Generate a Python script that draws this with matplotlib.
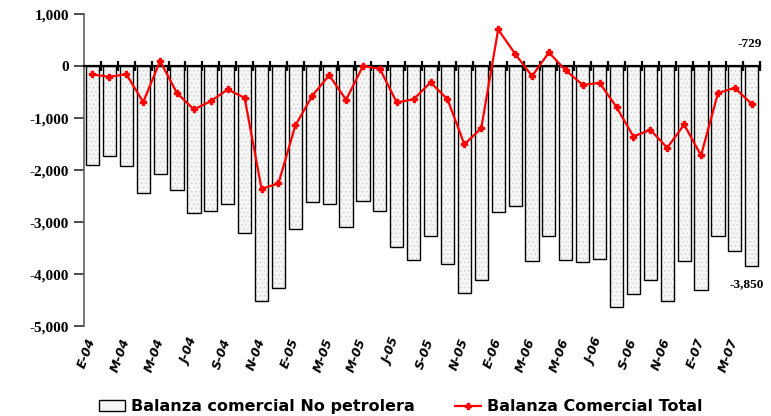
import matplotlib.pyplot as plt
import matplotlib.patches as mpatches
import matplotlib.lines as mlines

# Monthly data, Jan-2004 .. Apr-2007 (millions of dollars)
months = ["E-04", "F-04", "M-04", "A-04", "M-04", "J-04", "J-04", "A-04", "S-04", "O-04", "N-04", "D-04",
          "E-05", "F-05", "M-05", "A-05", "M-05", "J-05", "J-05", "A-05", "S-05", "O-05", "N-05", "D-05",
          "E-06", "F-06", "M-06", "A-06", "M-06", "J-06", "J-06", "A-06", "S-06", "O-06", "N-06", "D-06",
          "E-07", "F-07", "M-07", "A-07"]

no_petrolera = [-1910, -1731, -1929, -2442, -2077, -2378, -2827, -2782, -2647, -3212, -4519, -4269,
                -3141, -2615, -2660, -3096, -2596, -2782, -3474, -3724, -3269, -3801, -4372, -4122,
                -2814, -2699, -3750, -3269, -3731, -3763, -3718, -4635, -4385, -4109, -4519, -3756,
                -4314, -3276, -3564, -3850]

total = [-160, -205, -154, -692, 96, -519, -833, -673, -449, -609, -2359, -2256,
         -1141, -571, -173, -647, 0, -51, -699, -635, -314, -635, -1506, -1192,
         705, 237, -192, 263, -83, -359, -321, -788, -1353, -1224, -1571, -1122,
         -1718, -519, -417, -729]

x = list(range(len(months)))

plt.rcParams['hatch.linewidth'] = 0.4

fig = plt.figure(figsize=(7.71, 4.16), dpi=100)
ax = fig.add_axes([0.109, 0.216, 0.877, 0.750])

# light stipple fill, then black outlines on top
ax.bar(x, no_petrolera, width=0.78, facecolor='#f6f6f6', edgecolor='#c8c8c8',
       linewidth=0, hatch='....', zorder=2)
ax.bar(x, no_petrolera, width=0.78, facecolor='none', edgecolor='black',
       linewidth=1.0, zorder=2.5)
ax.plot(x, total, color='#ff0000', lw=1.6, marker='P', markersize=5, zorder=4)

ax.set_xlim(-0.5, len(months) - 0.5)
ax.set_ylim(-5000, 1000)

# zero line with boundary ticks
ax.spines['bottom'].set_position(('data', 0))
ax.spines['bottom'].set_linewidth(1.6)
ax.spines['bottom'].set_zorder(3)
ax.set_xticks([i + 0.5 for i in x])
ax.tick_params(axis='x', direction='inout', length=7, width=1.6, labelbottom=False)
ax.spines['top'].set_visible(False)
ax.spines['right'].set_visible(False)
ax.spines['left'].set_color('#606060')
ax.spines['left'].set_linewidth(1.2)

yt = [1000, 0, -1000, -2000, -3000, -4000, -5000]
ax.set_yticks(yt)
ax.set_yticklabels([f"{v:,}" for v in yt], fontfamily='Liberation Serif',
                   fontweight='bold', fontsize=11)
ax.tick_params(axis='y', direction='out', length=7, width=1.2, color='#303030', pad=4)

# month labels at bottom
sec = ax.secondary_xaxis('bottom')
sec.spines['bottom'].set_visible(False)
sec.set_xticks(x[::2])
sec.set_xticklabels(months[::2], rotation=70, ha='right', va='center', rotation_mode='anchor',
                    fontstyle='italic', fontweight='bold', fontsize=9)
sec.tick_params(length=0, pad=9)

ax.text(x[-1] + 0.6, 430, f"{total[-1]:,}", fontfamily='Liberation Serif',
        fontweight='bold', fontsize=9.5, ha='right', va='center')
ax.text(x[-1] + 0.7, -4200, f"{no_petrolera[-1]:,}", fontfamily='Liberation Serif',
        fontweight='bold', fontsize=9.5, ha='right', va='center')

h1 = mpatches.Patch(facecolor='#f6f6f6', edgecolor='black', linewidth=1.0)
h2 = mlines.Line2D([], [], color='#ff0000', lw=1.6, marker='P', markersize=5)
fig.legend([h1, h2], ["Balanza comercial No petrolera", "Balanza Comercial Total"],
           loc='lower center', bbox_to_anchor=(0.52, -0.03), ncol=2, frameon=False,
           prop={'weight': 'bold', 'size': 11.5}, handlelength=1.6, handletextpad=0.4,
           columnspacing=2.5)

fig.savefig("out.png", dpi=100)
